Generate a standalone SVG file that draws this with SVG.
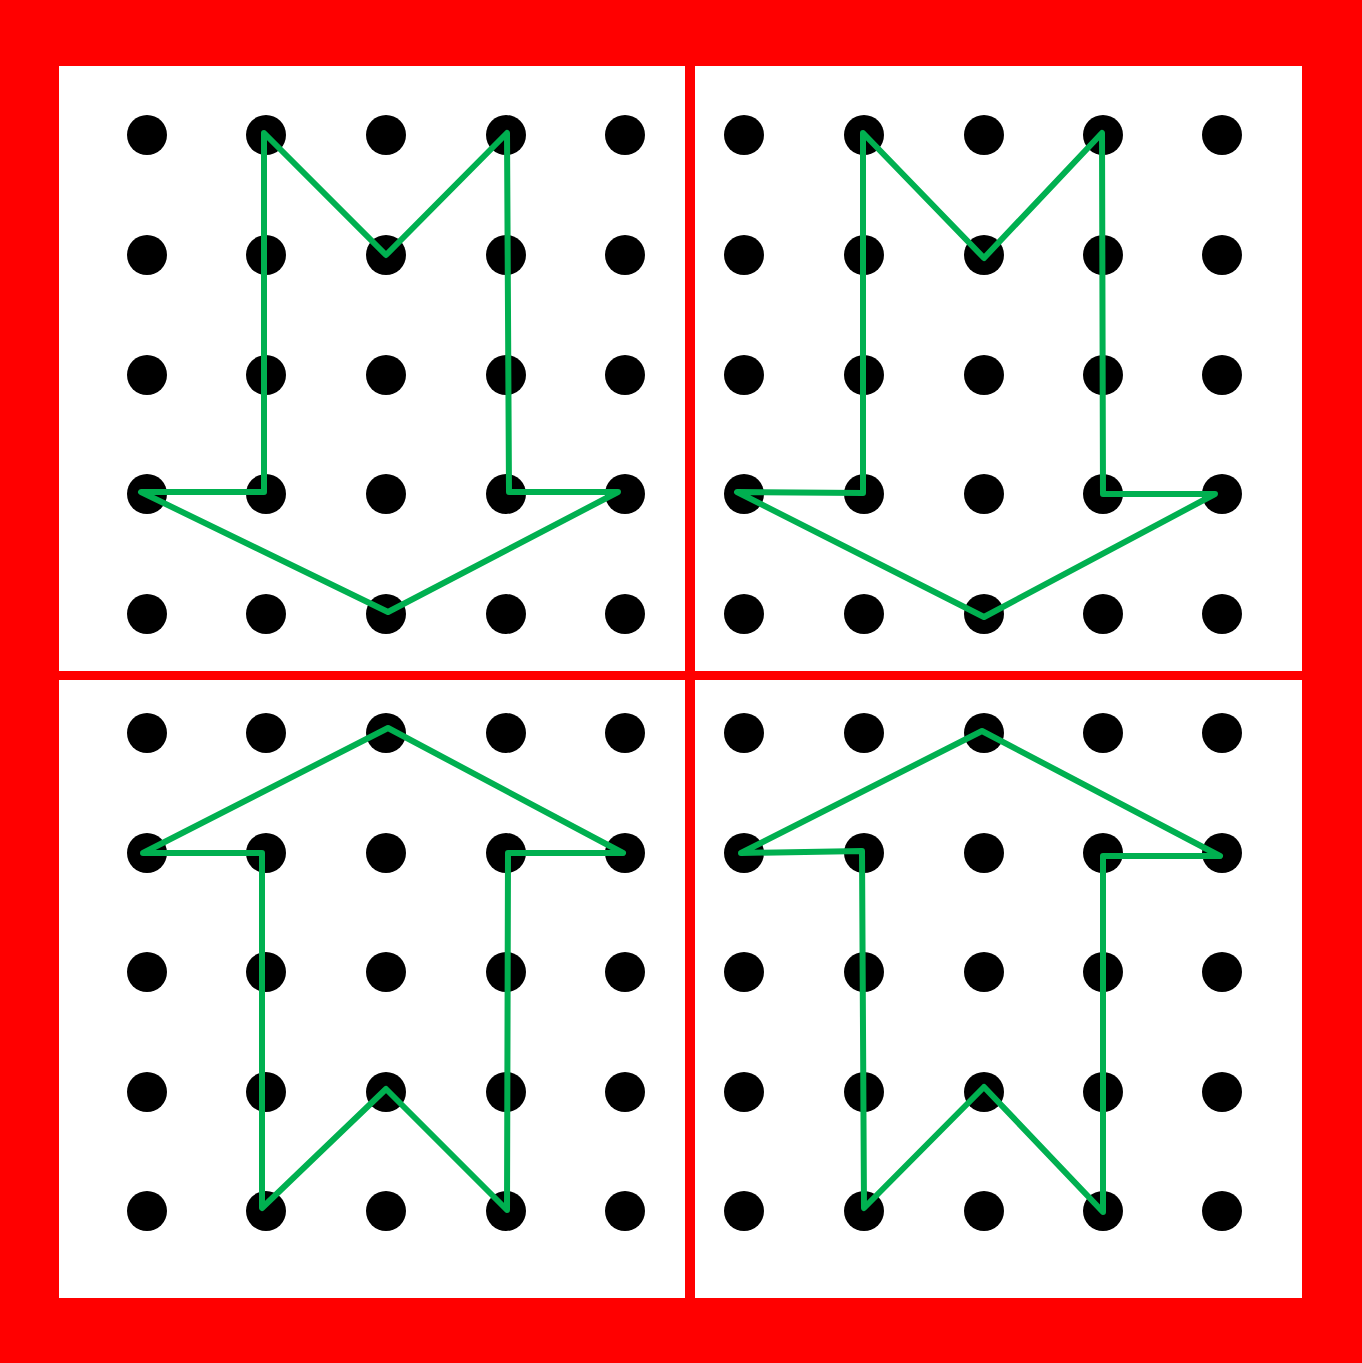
<svg xmlns="http://www.w3.org/2000/svg" width="1362" height="1363" viewBox="0 0 1362 1363">
<style>
.panel{fill:#fff}
.dot{fill:#000}
.shape{fill:none;stroke:#00B050;stroke-width:6;stroke-linejoin:round}
</style>
<rect x="0" y="0" width="1362" height="1363" fill="#FF0000"/>
<g id="panels">
<rect class="panel" x="59" y="66" width="626" height="605"/>
<rect class="panel" x="695" y="66" width="607" height="605"/>
<rect class="panel" x="59" y="680" width="626" height="618"/>
<rect class="panel" x="695" y="680" width="607" height="618"/>
</g>
<g id="dots">
<g id="dots-tl">
<circle class="dot" cx="147" cy="135" r="20"/><circle class="dot" cx="266" cy="135" r="20"/><circle class="dot" cx="386" cy="135" r="20"/><circle class="dot" cx="506" cy="135" r="20"/><circle class="dot" cx="625" cy="135" r="20"/>
<circle class="dot" cx="147" cy="255" r="20"/><circle class="dot" cx="266" cy="255" r="20"/><circle class="dot" cx="386" cy="255" r="20"/><circle class="dot" cx="506" cy="255" r="20"/><circle class="dot" cx="625" cy="255" r="20"/>
<circle class="dot" cx="147" cy="375" r="20"/><circle class="dot" cx="266" cy="375" r="20"/><circle class="dot" cx="386" cy="375" r="20"/><circle class="dot" cx="506" cy="375" r="20"/><circle class="dot" cx="625" cy="375" r="20"/>
<circle class="dot" cx="147" cy="494" r="20"/><circle class="dot" cx="266" cy="494" r="20"/><circle class="dot" cx="386" cy="494" r="20"/><circle class="dot" cx="506" cy="494" r="20"/><circle class="dot" cx="625" cy="494" r="20"/>
<circle class="dot" cx="147" cy="614" r="20"/><circle class="dot" cx="266" cy="614" r="20"/><circle class="dot" cx="386" cy="614" r="20"/><circle class="dot" cx="506" cy="614" r="20"/><circle class="dot" cx="625" cy="614" r="20"/>
</g>
<g id="dots-tr">
<circle class="dot" cx="744" cy="135" r="20"/><circle class="dot" cx="864" cy="135" r="20"/><circle class="dot" cx="984" cy="135" r="20"/><circle class="dot" cx="1103" cy="135" r="20"/><circle class="dot" cx="1222" cy="135" r="20"/>
<circle class="dot" cx="744" cy="255" r="20"/><circle class="dot" cx="864" cy="255" r="20"/><circle class="dot" cx="984" cy="255" r="20"/><circle class="dot" cx="1103" cy="255" r="20"/><circle class="dot" cx="1222" cy="255" r="20"/>
<circle class="dot" cx="744" cy="375" r="20"/><circle class="dot" cx="864" cy="375" r="20"/><circle class="dot" cx="984" cy="375" r="20"/><circle class="dot" cx="1103" cy="375" r="20"/><circle class="dot" cx="1222" cy="375" r="20"/>
<circle class="dot" cx="744" cy="494" r="20"/><circle class="dot" cx="864" cy="494" r="20"/><circle class="dot" cx="984" cy="494" r="20"/><circle class="dot" cx="1103" cy="494" r="20"/><circle class="dot" cx="1222" cy="494" r="20"/>
<circle class="dot" cx="744" cy="614" r="20"/><circle class="dot" cx="864" cy="614" r="20"/><circle class="dot" cx="984" cy="614" r="20"/><circle class="dot" cx="1103" cy="614" r="20"/><circle class="dot" cx="1222" cy="614" r="20"/>
</g>
<g id="dots-bl">
<circle class="dot" cx="147" cy="733" r="20"/><circle class="dot" cx="266" cy="733" r="20"/><circle class="dot" cx="386" cy="733" r="20"/><circle class="dot" cx="506" cy="733" r="20"/><circle class="dot" cx="625" cy="733" r="20"/>
<circle class="dot" cx="147" cy="853" r="20"/><circle class="dot" cx="266" cy="853" r="20"/><circle class="dot" cx="386" cy="853" r="20"/><circle class="dot" cx="506" cy="853" r="20"/><circle class="dot" cx="625" cy="853" r="20"/>
<circle class="dot" cx="147" cy="972" r="20"/><circle class="dot" cx="266" cy="972" r="20"/><circle class="dot" cx="386" cy="972" r="20"/><circle class="dot" cx="506" cy="972" r="20"/><circle class="dot" cx="625" cy="972" r="20"/>
<circle class="dot" cx="147" cy="1092" r="20"/><circle class="dot" cx="266" cy="1092" r="20"/><circle class="dot" cx="386" cy="1092" r="20"/><circle class="dot" cx="506" cy="1092" r="20"/><circle class="dot" cx="625" cy="1092" r="20"/>
<circle class="dot" cx="147" cy="1211" r="20"/><circle class="dot" cx="266" cy="1211" r="20"/><circle class="dot" cx="386" cy="1211" r="20"/><circle class="dot" cx="506" cy="1211" r="20"/><circle class="dot" cx="625" cy="1211" r="20"/>
</g>
<g id="dots-br">
<circle class="dot" cx="744" cy="733" r="20"/><circle class="dot" cx="864" cy="733" r="20"/><circle class="dot" cx="984" cy="733" r="20"/><circle class="dot" cx="1103" cy="733" r="20"/><circle class="dot" cx="1222" cy="733" r="20"/>
<circle class="dot" cx="744" cy="853" r="20"/><circle class="dot" cx="864" cy="853" r="20"/><circle class="dot" cx="984" cy="853" r="20"/><circle class="dot" cx="1103" cy="853" r="20"/><circle class="dot" cx="1222" cy="853" r="20"/>
<circle class="dot" cx="744" cy="972" r="20"/><circle class="dot" cx="864" cy="972" r="20"/><circle class="dot" cx="984" cy="972" r="20"/><circle class="dot" cx="1103" cy="972" r="20"/><circle class="dot" cx="1222" cy="972" r="20"/>
<circle class="dot" cx="744" cy="1092" r="20"/><circle class="dot" cx="864" cy="1092" r="20"/><circle class="dot" cx="984" cy="1092" r="20"/><circle class="dot" cx="1103" cy="1092" r="20"/><circle class="dot" cx="1222" cy="1092" r="20"/>
<circle class="dot" cx="744" cy="1211" r="20"/><circle class="dot" cx="864" cy="1211" r="20"/><circle class="dot" cx="984" cy="1211" r="20"/><circle class="dot" cx="1103" cy="1211" r="20"/><circle class="dot" cx="1222" cy="1211" r="20"/>
</g>
</g>
<g id="shapes">
<polygon id="arrow-tl" class="shape" points="264,133 386,255 507,133 509,492 618,492 388,612 141,492 264,492"/>
<polygon id="arrow-tr" class="shape" points="863,133 984,258 1102,133 1103,494 1215,494 984,617 737,492 863,493"/>
<polygon id="arrow-bl" class="shape" points="388,728 623,853 508,853 507,1210 386,1089 262,1208 262,853 143,853"/>
<polygon id="arrow-br" class="shape" points="982,731 1220,856 1103,856 1103,1212 984,1087 864,1208 862,851 741,853"/>
</g>
</svg>
